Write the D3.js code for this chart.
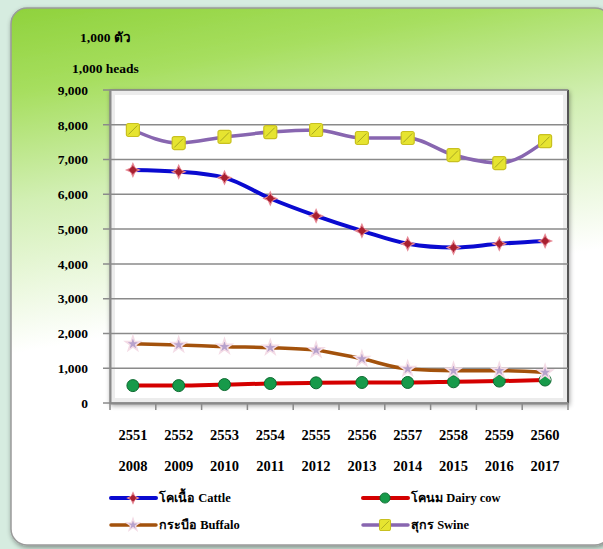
<!DOCTYPE html>
<html><head><meta charset="utf-8">
<script src="https://cdn.jsdelivr.net/npm/d3@7"></script>
<style>html,body{margin:0;padding:0;background:#d6ece0;}svg{display:block;}</style>
</head><body>
<svg id="c" width="603" height="549"></svg>
<script>
const thaiYears = ["2551","2552","2553","2554","2555","2556","2557","2558","2559","2560"];
const ceYears = ["2008","2009","2010","2011","2012","2013","2014","2015","2016","2017"];
const cattle = [6700, 6650, 6480, 5880, 5380, 4950, 4580, 4470, 4580, 4660];
const dairy = [500, 500, 530, 560, 580, 590, 590, 610, 630, 660];
const buffalo = [1700, 1670, 1620, 1590, 1520, 1270, 980, 930, 930, 880];
const swine = [7850, 7475, 7650, 7790, 7850, 7620, 7620, 7130, 6900, 7530];
const yTicks = [0,1000,2000,3000,4000,5000,6000,7000,8000,9000];
const seriesNames = ["โคเนื้อ Cattle","โคนม Dairy cow","กระบือ Buffalo","สุกร Swine"];

const svg = d3.select("#c");
const defs = svg.append("defs");
const g1 = defs.append("linearGradient").attr("id","bg").attr("x1",0).attr("y1",0).attr("x2",0.2).attr("y2",1);
g1.append("stop").attr("offset","0").attr("stop-color","#8fd23c");
g1.append("stop").attr("offset","0.15").attr("stop-color","#a6de5e");
g1.append("stop").attr("offset","0.35").attr("stop-color","#d2efb4");
g1.append("stop").attr("offset","0.62").attr("stop-color","#ffffff");
g1.append("stop").attr("offset","1").attr("stop-color","#ffffff");
const f = defs.append("filter").attr("id","sh").attr("x","-5%").attr("y","-5%").attr("width","110%").attr("height","110%");
f.append("feGaussianBlur").attr("in","SourceAlpha").attr("stdDeviation",2.5).attr("result","b");
f.append("feOffset").attr("dx",1).attr("dy",2).attr("result","o");
f.append("feComponentTransfer").append("feFuncA").attr("type","linear").attr("slope",0.4);
const fm = f.append("feMerge"); fm.append("feMergeNode"); fm.append("feMergeNode").attr("in","SourceGraphic");

// panel
svg.append("rect").attr("x",11).attr("y",8).attr("width",600).attr("height",537).attr("rx",16)
  .attr("fill","url(#bg)").attr("stroke","#9a9a9a").attr("stroke-width",1.5).attr("filter","url(#sh)");

const L=110, R=568, T=90, B=403;
const x = d3.scaleBand().domain(thaiYears).range([L,R]);
const y = d3.scaleLinear().domain([0,9000]).range([B,T]);

// plot area
svg.append("rect").attr("x",L).attr("y",T).attr("width",R-L).attr("height",B-T)
  .attr("fill","#ffffff").attr("stroke","#7a7a7a").attr("stroke-width",1).attr("filter","url(#sh)");
svg.append("rect").attr("x",L+3).attr("y",T+3).attr("width",R-L-6).attr("height",B-T-6)
  .attr("fill","none").attr("stroke","#ececec").attr("stroke-width",4);
svg.append("line").attr("x1",R).attr("x2",R).attr("y1",T).attr("y2",B).attr("stroke","#555").attr("stroke-width",2);

// grid
svg.append("g").selectAll("line").data(yTicks).join("line")
  .attr("x1",L-7).attr("x2",R).attr("y1",d=>y(d)).attr("y2",d=>y(d))
  .attr("stroke","#8a8a8a").attr("stroke-width",1.5);
// y axis
const ya = svg.append("g").attr("transform",`translate(${L},0)`)
  .call(d3.axisLeft(y).tickValues(yTicks).tickSize(0).tickPadding(22).tickFormat(d3.format(",")));
ya.select(".domain").attr("stroke","#8a8a8a").attr("stroke-width",2);
ya.selectAll("text").attr("font-family","Liberation Serif, serif").attr("font-weight","bold").attr("font-size",13.5).attr("fill","#000");
// x axis
const xa = svg.append("g").attr("transform",`translate(0,${B})`)
  .call(d3.axisBottom(x).tickSize(0).tickPadding(27));
xa.select(".domain").attr("stroke","#8a8a8a").attr("stroke-width",2);
xa.selectAll("text").attr("font-family","Liberation Serif, serif").attr("font-weight","bold").attr("font-size",14.5).attr("fill","#000");
xa.selectAll(".tick").append("text").text((d,i)=>ceYears[i]).attr("y",58).attr("dy","0.71em")
  .attr("font-family","Liberation Serif, serif").attr("font-weight","bold").attr("font-size",14.5).attr("fill","#000").attr("text-anchor","middle");
svg.append("g").selectAll("line").data(d3.range(11)).join("line")
  .attr("x1",i=>L+i*x.step()).attr("x2",i=>L+i*x.step()).attr("y1",B).attr("y2",B+7)
  .attr("stroke","#8a8a8a").attr("stroke-width",1.5);

// units
svg.append("text").attr("x",80).attr("y",42).text("1,000 ตัว").attr("font-family","Liberation Serif, serif").attr("font-weight","bold").attr("font-size",13.5);
svg.append("text").attr("x",72).attr("y",73).text("1,000 heads").attr("font-family","Liberation Serif, serif").attr("font-weight","bold").attr("font-size",13.5);

const cx = (d,i)=>x(thaiYears[i])+x.bandwidth()/2;
const line = d3.line().x((d,i)=>cx(d,i)).y(d=>y(d)).curve(d3.curveMonotoneX);
const series = [
  {data:cattle, color:"#0a0ad0", w:4, mk:"star", mc:"#a82030"},
  {data:dairy, color:"#d40000", w:4, mk:"circle", mc:"#179a4a"},
  {data:buffalo, color:"#a3520c", w:3.5, mk:"tri", mc:"#b8a2cc"},
  {data:swine, color:"#8866b0", w:3.5, mk:"square", mc:"#e6e430"}
];
const star4 = "M0,-6.5L2,-2L6.5,0L2,2L0,6.5L-2,2L-6.5,0L-2,-2Z";
function marker(sel, s){
  if(s.mk==="star"){
    sel.append("path").attr("d", star4).attr("fill",s.mc).attr("stroke","#e88a96").attr("stroke-width",1.2);
    sel.append("circle").attr("r",3).attr("fill",s.mc);
  } else if(s.mk==="circle"){
    sel.append("circle").attr("r",6).attr("fill",s.mc).attr("stroke","#0d6a30").attr("stroke-width",1);
  } else if(s.mk==="tri"){
    sel.append("path").attr("d", d3.symbol(d3.symbolStar, 70)()).attr("fill",s.mc).attr("stroke","#f4dce6").attr("stroke-width",1.5);
  } else {
    sel.append("rect").attr("x",-6.5).attr("y",-6.5).attr("width",13).attr("height",13).attr("rx",2)
      .attr("fill",s.mc).attr("stroke","#c8c020").attr("stroke-width",1.2);
    sel.append("path").attr("d","M-4.5,4.5L4.5,-4.5").attr("stroke","#a8a820").attr("stroke-width",1);
  }
}
// draw order: dairy, buffalo, cattle, swine
[1,2,0,3].forEach(k=>{
  const s = series[k];
  svg.append("path").attr("d",line(s.data)).attr("fill","none").attr("stroke",s.color).attr("stroke-width",s.w).attr("stroke-linejoin","round");
});
[1,2,0,3].forEach(k=>{
  const s = series[k];
  svg.append("g").selectAll("g").data(s.data).join("g")
    .attr("transform",(d,i)=>`translate(${cx(d,i)},${y(d)})`).each(function(){marker(d3.select(this),s);});
});

// legend
const lp = [[111,498],[363,498],[111,525],[363,525]];
series.forEach((s,i)=>{
  const [lx,ly]=lp[i];
  svg.append("line").attr("x1",lx).attr("x2",lx+45).attr("y1",ly).attr("y2",ly).attr("stroke",s.color).attr("stroke-width",s.w).attr("stroke-linecap","round");
  const mg = svg.append("g").attr("transform",`translate(${lx+22},${ly}) scale(0.85)`);
  marker(mg,s);
  svg.append("text").attr("x",lx+48).attr("y",ly).attr("dy","0.35em").text(seriesNames[i])
    .attr("font-family","Liberation Serif, serif").attr("font-weight","bold").attr("font-size",12.5);
});
</script>
</body></html>
